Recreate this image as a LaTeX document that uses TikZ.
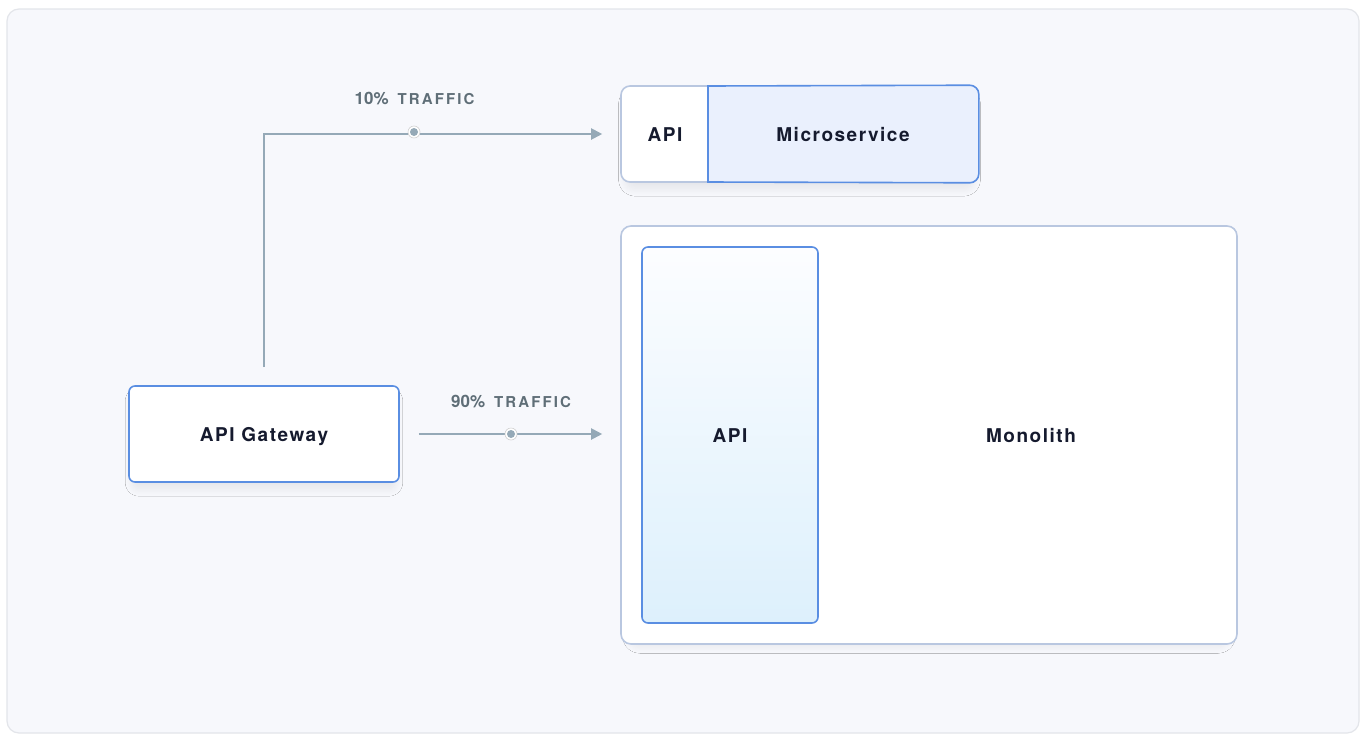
\documentclass[tikz,border=0pt]{standalone}
\usepackage{fontspec}
\setmainfont{TeX Gyre Heros}
\newfontfamily\boxfont[LetterSpace=8]{TeX Gyre Heros}
\newfontfamily\pctfont[LetterSpace=0]{TeX Gyre Heros}
\newfontfamily\capsfont[LetterSpace=14]{TeX Gyre Heros}
\usetikzlibrary{arrows.meta,shadows.blur}

\definecolor{panelbg}{HTML}{F7F8FC}
\definecolor{panelline}{HTML}{E3E5EA}
\definecolor{wire}{HTML}{95A9B7}
\definecolor{tagtext}{HTML}{5F6E77}
\definecolor{edgeblue}{HTML}{5A8EE2}
\definecolor{edgesoft}{HTML}{B9C7E0}
\definecolor{msfill}{HTML}{EAF0FD}
\definecolor{apibottom}{HTML}{DDF0FC}
\definecolor{apitop}{HTML}{FCFDFF}
\definecolor{ink}{HTML}{151A2E}

\tikzset{
  boxshadow/.style={blur shadow={shadow xshift=0pt,shadow yshift=-8pt,shadow scale=0.97,
      shadow blur steps=30,shadow blur radius=8pt,shadow opacity=8}},
  card/.style={draw=edgesoft,line width=1.6pt,fill=white,rounded corners=9pt,boxshadow,inner sep=0pt},
  bluecard/.style={draw=edgeblue,line width=1.6pt,fill=white,rounded corners=6pt,boxshadow,inner sep=0pt},
  boxlabel/.style={font=\boxfont\bfseries\fontsize{19}{21}\selectfont,text=ink,inner sep=0pt,anchor=base},
  conn/.style={draw=wire,line width=2pt,-{Triangle[length=11pt,width=11pt]}},
  dotring/.style={circle,fill=white,draw=black!18,line width=0.6pt,minimum size=12pt,inner sep=0pt},
  dotcore/.style={circle,fill=wire,minimum size=8pt,inner sep=0pt},
  tag/.style={text=tagtext,inner sep=0pt,anchor=base}
}

\newcommand{\traffictag}[1]{{\pctfont\bfseries\fontsize{17}{20}\selectfont #1\%}\hspace{9pt}{\capsfont\bfseries\fontsize{15}{20}\selectfont TRAFFIC}}

\begin{document}
\begin{tikzpicture}[x=1pt,y=-1pt]
  % page frame and panel
  \useasboundingbox (0,0) rectangle (1360,734);
  \fill[white] (0,0) rectangle (1360,734);
  \node[draw=panelline,line width=1.2pt,fill=panelbg,rounded corners=12pt,
        minimum width=1352pt,minimum height=724pt,inner sep=0pt] (panel) at (683,371) {};

  % microservice: outer card with the API slot, blue service part on the right
  \node[card,minimum width=357pt,minimum height=96pt] (micro) at (799.5,134) {};
  \coordinate (split top) at (708,86);
  \coordinate (split bottom) at (708,182);
  \draw[draw=edgeblue,fill=msfill,line width=1.6pt]
    (split bottom) -- (split top) [rounded corners=9pt] -- (micro.north east)
    -- (micro.south east) [sharp corners] -- cycle;
  \node[boxlabel] (msapi) at (665,141) {API};
  \node[boxlabel] (ms) at (843,141) {Microservice};

  % monolith with its API layer
  \node[card,rounded corners=10pt,minimum width=616pt,minimum height=418pt] (mono) at (929,435) {};
  \node[draw=edgeblue,line width=1.6pt,rounded corners=6pt,top color=apitop,bottom color=apibottom,
        minimum width=176pt,minimum height=376pt,inner sep=0pt] (monoapi) at (730,435) {};
  \node[boxlabel] (monoapilabel) at (730,442) {API};
  \node[boxlabel] (monolabel) at (1031,442) {Monolith};

  % gateway
  \node[bluecard,minimum width=270pt,minimum height=96pt] (gw) at (264,434) {};
  \node[boxlabel] (gwlabel) at (264,441) {API Gateway};

  % routed traffic
  \draw[conn,shorten <=18pt,shorten >=18pt] (gw.north) |- (micro.west);
  \draw[conn,shorten <=19pt,shorten >=18pt] (gw.east) -- (mono.west |- gw.east);

  \node[dotring] (d1) at (414,132) {};
  \node[dotcore] at (d1) {};
  \node[dotring] (d2) at (511,434) {};
  \node[dotcore] at (d2) {};

  \node[tag] (t1) at (414.5,104) {\traffictag{10}};
  \node[tag] (t2) at (511,407) {\traffictag{90}};
\end{tikzpicture}
\end{document}
